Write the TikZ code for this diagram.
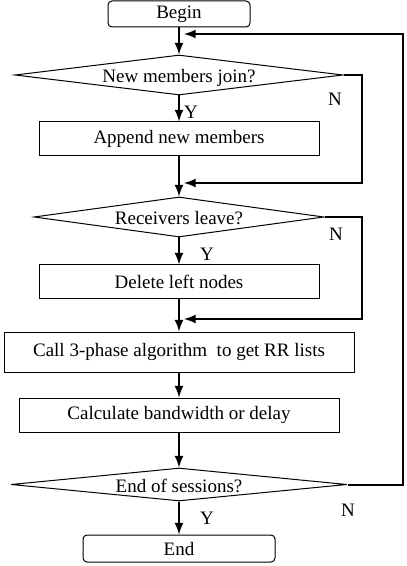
\documentclass[tikz,border=0pt]{standalone}
\usepackage{fontspec}
\setmainfont{Liberation Serif}
\usepackage{tikz}
\usetikzlibrary{shapes.geometric}
\tikzset{
    term-box/.style = {draw, line width=0.5pt, rectangle, rounded corners=2pt, inner sep=0pt},
    step-box/.style = {draw, line width=0.5pt, rectangle, inner sep=0pt},
    test-diamond/.style = {draw, line width=0.5pt, diamond, aspect=9, inner sep=0pt, text height=8pt, text depth=0pt},
    flow-arrow/.style = {line width=1pt, -latex},
    flow-line/.style = {line width=1pt},
    yn-label/.style = {inner sep=0pt},
}

\begin{document}
\begin{tikzpicture}[x=0.5pt, y=-0.5pt, font=\fontsize{9.5}{11}\selectfont]
\useasboundingbox (0,0) rectangle (406,566);

% nodes
\node [term-box, minimum width=71pt, minimum height=13pt] (begin) at (179,14) {Begin};
\node [test-diamond, minimum width=164pt, minimum height=20pt] (join) at (179,75) {New members join?};
\node [step-box, minimum width=140pt, minimum height=17pt] (append) at (179,139) {Append new members};
\node [test-diamond, minimum width=145pt, minimum height=20pt] (leave) at (179,217) {Receivers leave?};
\node [step-box, minimum width=140pt, minimum height=16.5pt] (delete) at (179,281.5) {Delete left nodes};
\node [step-box, minimum width=175pt, minimum height=20pt] (call) at (179,352) {Call 3-phase algorithm\ \ to get RR lists};
\node [step-box, minimum width=160pt, minimum height=17pt] (calc) at (179,415) {Calculate bandwidth or delay};
\node [test-diamond, minimum width=168pt, minimum height=16.5pt] (sessions) at (179,484.5) {End of sessions?};
\node [term-box, minimum width=96pt, minimum height=13.5pt] (stop) at (179,548.5) {End};

% loop points
\coordinate (back0) at (184,34);
\coordinate (back1) at (184,183);
\coordinate (back2) at (184,319);
\coordinate (side1) at (362,183);
\coordinate (side2) at (362,319);
\coordinate (side3) at (403,34);

% main flow
\draw [flow-arrow] (begin) -- (join);
\draw [flow-arrow] (join) -- (append);
\draw [flow-arrow] (append) -- (leave);
\draw [flow-arrow] (leave) -- (delete);
\draw [flow-arrow] (delete) -- (call);
\draw [flow-arrow] (call) -- (calc);
\draw [flow-arrow] (calc) -- (sessions);
\draw [flow-arrow] (sessions) -- (stop);

% no branches
\draw [flow-arrow] (join.east) -| (side1) -- (back1);
\draw [flow-arrow] (leave.east) -| (side2) -- (back2);
\draw [flow-arrow] (sessions.east) -| (side3) -- (back0);

% labels
\node [yn-label] (y1) at (191,112) {Y};
\node [yn-label] (n1) at (335,99) {N};
\node [yn-label] (y2) at (207,254) {Y};
\node [yn-label] (n2) at (336,234) {N};
\node [yn-label] (y3) at (207,518) {Y};
\node [yn-label] (n3) at (348,510) {N};
\end{tikzpicture}
\end{document}
